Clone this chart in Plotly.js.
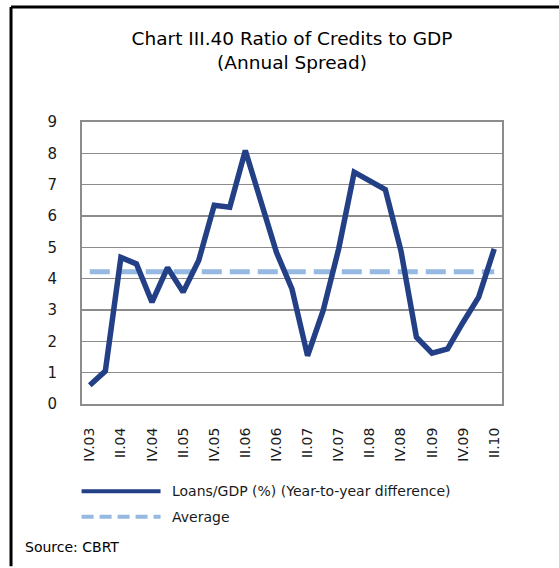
<!DOCTYPE html>
<html>
<head>
<meta charset="utf-8">
<script src="https://cdn.plot.ly/plotly-3.0.1.min.js"></script>
<style>
html,body{margin:0;padding:0;background:#fff;}
#chart{width:559px;height:568px;}
</style>
</head>
<body>
<div id="chart"></div>
<script>
// Quarters IV.03 ... II.10
const quarters = ["IV.03","I.04","II.04","III.04","IV.04","I.05","II.05","III.05","IV.05","I.06","II.06","III.06","IV.06","I.07","II.07","III.07","IV.07","I.08","II.08","III.08","IV.08","I.09","II.09","III.09","IV.09","I.10","II.10"];
const tickLabels = ["IV.03","II.04","IV.04","II.05","IV.05","II.06","IV.06","II.07","IV.07","II.08","IV.08","II.09","IV.09","II.10"];
const loansToGdp = [0.6,1.05,4.68,4.47,3.25,4.35,3.57,4.58,6.34,6.28,8.09,6.45,4.84,3.67,1.54,2.98,4.95,7.4,7.13,6.84,4.9,2.13,1.62,1.76,2.61,3.41,4.95];
const average = [4.22,4.22,4.22,4.22,4.22,4.22,4.22,4.22,4.22,4.22,4.22,4.22,4.22,4.22,4.22,4.22,4.22,4.22,4.22,4.22,4.22,4.22,4.22,4.22,4.22,4.22,4.22];
const seriesNames = ["Loans/GDP (%) (Year-to-year difference)", "Average"];

const FONT = "DejaVu Sans";
const navy = "#233F86";
const light = "#95B9E0";

const traces = [
  {x: quarters, y: average, type: "scatter", mode: "lines", name: seriesNames[1],
   line: {color: light, width: 5, dash: "20px,8px"}, hoverinfo: "skip"},
  {x: quarters, y: loansToGdp, type: "scatter", mode: "lines", name: seriesNames[0],
   line: {color: navy, width: 5.5, shape: "linear"}}
];

const layout = {
  width: 559, height: 568,
  margin: {l: 82, r: 57, t: 122, b: 164, pad: 0},
  paper_bgcolor: "#fff", plot_bgcolor: "#fff",
  showlegend: false,
  font: {family: FONT, color: "#1a1a1a"},
  title: {text: "Chart III.40 Ratio of Credits to GDP<br>(Annual Spread)",
          font: {family: FONT, size: 18.5, color: "#000"},
          x: 0.5, xref: "paper", xanchor: "center", y: 0.92, yanchor: "top"},
  xaxis: {type: "category", categoryorder: "array", categoryarray: quarters,
          range: [-0.5, 26.5], tickmode: "array", tickvals: tickLabels, ticktext: tickLabels,
          tickangle: -90, tickfont: {family: FONT, size: 14, color: "#1a1a1a"},
          ticks: "", ticklabelstandoff: 16, showgrid: false, zeroline: false,
          showline: true, linecolor: "#8c8c8c", linewidth: 2, mirror: true, fixedrange: true},
  yaxis: {range: [0, 9], dtick: 1, tick0: 0, tickfont: {family: FONT, size: 15, color: "#1a1a1a"},
          ticks: "", ticklabelstandoff: 20,
          showgrid: true, gridcolor: "#8c8c8c", gridwidth: 1.5,
          zeroline: false, showline: true, linecolor: "#8c8c8c", linewidth: 2, mirror: true, fixedrange: true},
  shapes: [
    // frame (left and top)
    {type: "line", xref: "paper", yref: "paper", x0: -0.169, x1: 1.15, y0: 1.408, y1: 1.408,
     line: {color: "#000", width: 3}},
    {type: "line", xref: "paper", yref: "paper", x0: -0.169, x1: -0.169, y0: 1.408, y1: -0.575,
     line: {color: "#000", width: 3}},
    // legend samples
    {type: "line", xref: "paper", yref: "paper", x0: -0.001, x1: 0.187, y0: -0.309, y1: -0.309,
     line: {color: navy, width: 4}},
    {type: "line", xref: "paper", yref: "paper", x0: -0.001, x1: 0.187, y0: -0.4, y1: -0.4,
     line: {color: light, width: 4, dash: "12px,6px"}}
  ],
  annotations: [
    {xref: "paper", yref: "paper", x: 0.209, y: -0.309, xanchor: "left", yanchor: "middle",
     text: seriesNames[0], showarrow: false, font: {family: FONT, size: 14, color: "#1a1a1a"}},
    {xref: "paper", yref: "paper", x: 0.209, y: -0.4, xanchor: "left", yanchor: "middle",
     text: seriesNames[1], showarrow: false, font: {family: FONT, size: 14, color: "#1a1a1a"}},
    {xref: "paper", yref: "paper", x: -0.14, y: -0.506, xanchor: "left", yanchor: "middle",
     text: "Source: CBRT", showarrow: false, font: {family: FONT, size: 14, color: "#000"}}
  ]
};

Plotly.newPlot("chart", traces, layout, {displayModeBar: false, staticPlot: true});
</script>
</body>
</html>
